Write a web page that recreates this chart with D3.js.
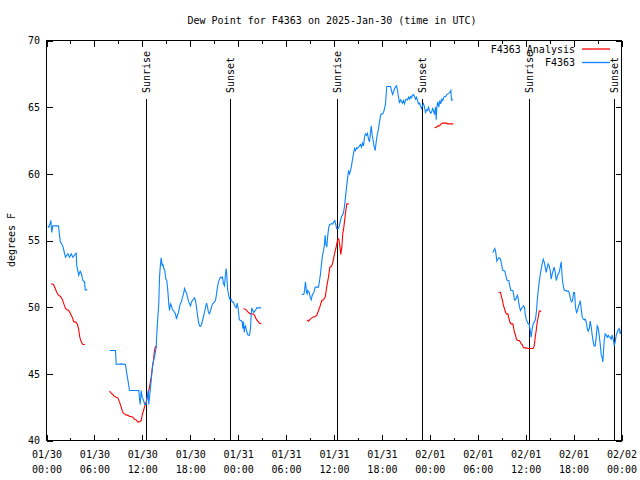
<!DOCTYPE html>
<html><head><meta charset="utf-8">
<script src="https://cdn.jsdelivr.net/npm/d3@7"></script>
<style>
body{margin:0;background:#fff}
text{font-family:"DejaVu Sans Mono",monospace;font-size:10px;fill:#000}
</style>
</head><body>
<svg id="c" width="640" height="480"></svg>
<script>
// ---- data (time in hours since 2025-01-30 00:00 UTC, dew point in °F) ----
const titleText = "Dew Point for F4363 on 2025-Jan-30 (time in UTC)";
const yLabel = "degrees F";
const xTickHours = [0,6,12,18,24,30,36,42,48,54,60,66,72];
const xTickLabels = ["01/30 00:00","01/30 06:00","01/30 12:00","01/30 18:00","01/31 00:00","01/31 06:00","01/31 12:00","01/31 18:00","02/01 00:00","02/01 06:00","02/01 12:00","02/01 18:00","02/02 00:00"];
const xMinorHours = [3,9,15,21,27,33,39,45,51,57,63,69];
const yTicks = [40,45,50,55,60,65,70];
const sunTimes = [12.43,22.92,36.35,47.0,60.39,71.09];
const sunLabels = ["Sunrise","Sunset","Sunrise","Sunset","Sunrise","Sunset"];
const seriesNames = ["F4363 Analysis","F4363"];
const seriesColors = ["#ff0000","#0a84ff"];

// F4363 observations (blue), in gap-separated pieces
const blue1Time = [0.16,0.29,0.46,0.54,0.66,0.79,1.50,1.63,1.72,1.84,2.04,2.17,2.38,2.67,2.88,3.09,3.29,3.51,3.72,3.79,4.04,4.22,4.38,4.55,4.76,4.85,5.10];
const blue1Val = [56.1,56.0,56.3,56.5,55.6,56.1,56.1,55.4,54.9,54.8,54.6,54.25,53.75,54.0,53.75,54.0,53.75,53.9,54.05,53.1,52.4,52.7,52.5,52.0,51.9,51.3,51.3];

const blue2Time = [7.89,8.64,8.73,9.35,9.89,10.06,10.23,10.39,11.56,11.65,
11.73,11.86,11.98,12.15,12.31,12.48,12.61,12.73,12.81,12.90,
12.99,13.15,13.31,13.52,13.74,13.81,13.94,14.06,14.15,14.24,
14.36,14.49,14.56,14.69,14.81,14.94,15.06,15.19,15.31,15.40,
15.53,15.65,15.78,15.90,16.03,16.15,16.28,16.40,16.53,16.65,
16.78,16.90,17.03,17.16,17.28,17.41,17.53,17.66,17.78,17.91,
18.03,18.16,18.28,18.41,18.53,18.66,18.78,18.91,19.03,19.16,
19.28,19.41,19.53,19.66,19.78,19.91,20.04,20.16,20.29,20.41,
20.54,20.66,20.79,20.91,21.04,21.16,21.29,21.41,21.54,21.66,
21.79,21.91,22.04,22.16,22.29,22.38,22.50,22.58,22.67,22.75,
22.88,23.00,23.13,23.25,23.38,23.50,23.63,23.75,23.88,24.00,
24.13,24.26,24.38,24.51,24.58,24.67,24.76,24.83,24.92,25.04,
25.17,25.29,25.42,25.55,25.63,25.71,25.83,25.96,26.08,26.21,
26.33,26.89];
const blue2Val = [46.75,46.75,45.7,45.75,45.7,45.0,44.4,43.75,43.75,43.1,
42.7,43.75,43.25,43.0,42.7,42.7,43.25,43.75,42.7,43.25,
43.75,44.75,45.75,46.25,47.0,48.0,49.25,50.25,52.25,53.0,
53.7,53.1,53.25,52.9,52.75,52.1,52.0,51.25,50.25,49.75,
50.25,50.1,49.8,49.75,49.6,49.5,49.1,49.4,49.6,50.0,
50.3,50.4,50.75,51.0,51.4,51.2,51.05,50.75,50.45,50.25,
50.1,50.4,50.5,50.6,50.7,50.5,50.0,49.4,48.9,48.6,
48.55,48.7,49.0,49.3,49.6,50.0,50.3,50.0,49.6,49.5,
49.75,50.0,50.25,50.3,50.4,50.5,51.0,51.5,51.9,52.1,
52.25,52.2,52.25,51.75,51.6,52.25,52.9,52.4,51.4,51.1,
50.7,50.55,50.6,50.4,50.4,50.2,50.05,49.95,50.3,49.9,
49.1,49.0,49.0,48.9,48.4,48.9,48.1,48.5,48.6,48.25,
47.95,47.9,47.9,48.4,49.5,49.95,49.75,49.6,49.7,49.8,
49.95,49.95];

const blue3Time = [31.97,32.22,32.31,32.43,32.56,32.65,32.72,32.90,33.02,33.15,
33.27,33.47,33.65,34.06,34.19,34.31,34.44,34.56,34.69,34.81,
34.90,34.97,35.10,35.22,35.35,35.48,35.65,35.85,35.98,36.10,
36.23,36.32,36.57,36.69,36.82,36.94,37.07,37.19,37.32,37.44,
37.57,37.69,37.82,37.94,38.07,38.19,38.32,38.44,38.57,38.69,
38.82,38.94,39.07,39.19,39.32,39.44,39.57,39.69,39.82,39.94,
40.07,40.19,40.32,40.45,40.57,40.66,40.78,40.91,41.03,41.16,
41.28,41.41,41.54,41.66,41.79,41.91,42.07,42.20,42.33,42.45,
42.54,42.61,43.08,43.20,43.33,43.45,43.58,43.70,43.83,43.95,
44.08,44.20,44.33,44.45,44.58,44.70,44.83,44.96,45.08,45.21,
45.33,45.46,45.58,45.71,45.83,45.96,46.08,46.21,46.33,46.46,
46.58,46.71,46.83,46.96,47.08,47.21,47.33,47.46,47.58,47.71,
47.83,47.96,48.08,48.21,48.34,48.46,48.59,48.71,48.80,48.87,
49.00,49.12,49.25,49.37,49.50,49.62,49.75,49.87,50.00,50.13,
50.25,50.38,50.50,50.63,50.71,50.93];
const blue3Val = [50.95,50.95,51.25,51.9,51.1,51.0,51.25,51.1,50.75,50.55,
50.9,51.1,51.5,51.5,52.0,52.5,53.25,53.9,54.25,54.75,
55.4,54.75,54.5,55.4,56.0,56.2,56.25,56.25,56.4,56.5,
56.2,55.9,55.9,56.2,56.5,56.8,56.9,57.1,57.6,58.25,
59.0,59.6,60.25,60.0,60.25,60.6,61.1,61.5,61.9,61.75,
61.95,61.9,62.0,62.1,62.2,62.0,62.3,62.1,62.75,63.0,
62.9,63.05,62.6,62.4,63.1,63.6,62.9,62.5,62.0,61.75,
62.4,62.9,63.25,63.75,64.25,64.5,64.5,64.6,64.9,65.25,
66.0,66.55,66.55,66.25,65.95,66.1,66.4,66.5,66.6,66.25,
65.75,65.3,65.55,65.45,65.3,65.5,65.25,65.55,65.6,65.55,
65.75,65.6,65.8,65.7,65.9,65.95,65.8,65.6,65.75,65.5,
65.25,65.3,65.1,64.9,65.1,65.25,65.0,64.6,64.8,64.75,
65.0,64.75,64.55,64.6,64.9,64.75,64.45,65.0,64.05,65.0,
65.4,65.0,65.5,65.25,65.6,65.5,65.75,65.8,65.8,65.95,
66.0,66.05,66.1,66.25,65.55,65.55];

const blue4Time = [55.89,56.01,56.14,56.26,56.39,56.51,56.64,56.76,56.89,57.01,
57.14,57.26,57.39,57.51,57.64,57.76,57.89,58.01,58.14,58.27,
58.39,58.48,58.60,58.73,58.85,58.98,59.10,59.23,59.35,59.48,
59.61,59.73,59.86,59.94,60.07,60.19,60.32,60.44,60.57,60.69,
60.82,60.94,61.11,61.23,61.36,61.45,61.57,61.70,61.82,61.95,
62.07,62.20,62.32,62.45,62.57,62.70,62.82,62.95,63.07,63.20,
63.32,63.45,63.57,63.70,63.83,63.95,64.08,64.20,64.33,64.45,
64.53,64.61,64.74,64.86,64.99,65.11,65.36,65.49,65.61,65.74,
65.87,65.99,66.12,66.24,66.37,66.49,66.62,66.74,66.83,66.95,
67.08,67.21,67.33,67.46,67.58,67.71,67.83,67.96,68.08,68.21,
68.33,68.46,68.58,68.71,68.83,68.96,69.08,69.21,69.33,69.46,
69.58,69.66,69.75,69.84,69.96,70.09,70.21,70.34,70.47,70.59,
70.72,70.84,70.97,71.09,71.21,71.34,71.46,71.59,71.71,71.84,
71.96];
const blue4Val = [54.1,54.25,54.4,54.1,53.45,53.6,53.7,53.7,53.5,53.1,
52.75,52.75,52.7,52.4,52.05,52.0,52.0,51.6,51.25,51.25,
51.25,51.0,50.55,50.55,50.75,50.9,50.5,50.0,49.75,49.9,
50.0,50.1,50.0,49.5,49.1,48.9,48.75,48.75,48.25,47.75,
48.4,48.75,48.9,49.1,49.75,50.5,51.25,51.9,52.4,52.9,
53.25,53.6,53.4,53.0,52.6,53.0,53.25,53.1,52.75,52.1,
52.5,52.75,53.0,52.6,52.0,52.25,52.5,52.6,53.0,53.4,
52.6,52.0,51.5,51.25,51.25,51.2,51.2,51.0,50.6,50.4,
50.5,51.1,51.1,50.0,49.6,49.75,50.1,50.25,50.5,49.9,
49.25,49.1,49.05,49.1,48.9,48.4,48.2,48.4,48.95,48.5,
47.9,47.4,47.1,47.1,47.75,48.6,48.45,47.9,47.25,46.4,
46.25,45.9,46.75,47.5,48.0,47.9,47.75,47.9,47.75,47.75,
47.6,47.9,47.6,47.1,47.4,47.9,48.1,48.3,48.4,48.0,
48.25];

// F4363 Analysis (red)
const red1Time = [0.59,0.88,1.09,1.29,1.50,1.75,1.97,2.17,2.38,2.59,2.79,3.01,3.22,3.42,3.63,3.84,4.01,4.17,4.35,4.55,4.80];
const red1Val = [51.75,51.7,51.4,51.1,50.9,50.8,50.6,50.25,49.9,49.8,49.75,49.5,49.25,48.9,48.9,48.75,48.4,47.75,47.4,47.2,47.2];
const red2Time = [7.89,8.10,8.30,8.51,8.73,8.93,9.14,9.35,9.55,9.77,9.98,10.18,10.39,10.61,10.81,11.02,11.23,11.43,11.65,11.86,11.98,12.15,12.31,12.48,12.68,12.90,13.11,13.24,13.40,13.52,13.65,13.81];
const red2Val = [43.7,43.55,43.45,43.3,43.25,43.2,42.9,42.5,42.1,42.0,41.9,41.9,41.8,41.8,41.75,41.6,41.55,41.4,41.4,41.5,41.9,42.25,42.6,42.9,43.4,44.0,44.75,45.4,46.0,46.75,47.05,47.05];
const red3Time = [24.67,25.01,25.29,25.55,25.83,26.05,26.26,26.46,26.67,26.89];
const red3Val = [49.9,49.8,49.6,49.5,49.5,49.4,49.1,48.95,48.8,48.75];
const red4Time = [32.60,32.81,33.02,33.35,33.65,33.85,34.06,34.27,34.47,34.69,34.90,35.02,35.15,35.31,35.48,35.65,35.81,35.98,36.10,36.23,36.35,36.48,36.60,36.73,36.85,36.98,37.10,37.23,37.35,37.48,37.60,37.85];
const red4Val = [49.05,48.95,49.1,49.25,49.3,49.4,49.75,50.1,50.5,50.55,50.75,51.25,51.75,52.25,53.0,53.05,53.25,53.75,54.1,54.4,54.75,55.1,55.1,54.6,53.95,54.5,55.5,56.0,56.6,57.25,57.75,57.75];
const red5Time = [48.59,48.80,49.00,49.21,49.42,49.62,49.84,50.05,50.25,50.59,50.93];
const red5Val = [63.45,63.5,63.6,63.6,63.75,63.8,63.8,63.8,63.75,63.75,63.75];
const red6Time = [56.60,56.85,56.98,57.10,57.23,57.35,57.48,57.60,57.77,57.89,58.01,58.14,58.39,58.48,58.60,58.73,58.85,58.98,59.19,59.32,59.44,59.57,59.69,59.82,60.07,60.27,60.94,61.07,61.20,61.32,61.45,61.57,61.70,61.95];
const red6Val = [51.1,51.1,50.75,50.5,50.1,49.9,49.6,49.5,49.5,49.2,48.9,48.75,48.75,48.5,48.1,47.9,47.6,47.5,47.5,47.4,47.25,47.2,47.0,46.95,46.95,46.9,46.9,47.1,47.75,48.25,48.9,49.25,49.7,49.7];

// ---- chart ----
const svg = d3.select("#c");
svg.append("rect").attr("width",640).attr("height",480).attr("fill","#fff");
const L = 46.5, R = 621.5, T = 40.5, B = 440.5;
const x = d3.scaleLinear().domain([0,72]).range([L,R]);
const y = d3.scaleLinear().domain([40,70]).range([B,T]);

const axStyle = g => { g.select(".domain").remove(); g.selectAll("line").attr("stroke","#000").attr("shape-rendering","crispEdges"); g.attr("font-family",null).attr("font-size",null); };

const gx = svg.append("g").attr("transform",`translate(0,${B})`)
  .call(d3.axisBottom(x).tickValues(xTickHours).tickSize(-6).tickFormat((d,i)=>xTickLabels[i]))
  .call(axStyle);
gx.selectAll(".tick text").each(function(d,i){
  const t = d3.select(this);
  const parts = xTickLabels[i].split(" ");
  t.text(null).attr("y",17).attr("dy",null).attr("fill","#000");
  t.append("tspan").attr("x",0).text(parts[0]);
  t.append("tspan").attr("x",0).attr("dy",15).text(parts[1]);
});
svg.append("g").attr("transform",`translate(0,${B})`)
  .call(d3.axisBottom(x).tickValues(xMinorHours).tickSize(-3).tickFormat("")).call(axStyle);
svg.append("g").attr("transform",`translate(0,${T})`)
  .call(d3.axisTop(x).tickValues(xTickHours).tickSize(-6).tickFormat("")).call(axStyle);
svg.append("g").attr("transform",`translate(0,${T})`)
  .call(d3.axisTop(x).tickValues(xMinorHours).tickSize(-3).tickFormat("")).call(axStyle);

const gy = svg.append("g").attr("transform",`translate(${L},0)`)
  .call(d3.axisLeft(y).tickValues(yTicks).tickSize(-6).tickPadding(6.5).tickFormat(d3.format("d")))
  .call(axStyle);
gy.selectAll("text").attr("fill","#000");
svg.append("g").attr("transform",`translate(${R},0)`)
  .call(d3.axisRight(y).tickValues(yTicks).tickSize(-6).tickFormat("")).call(axStyle);

// sunrise / sunset markers
sunTimes.forEach((t,i)=>{
  const sx = Math.round(x(t)) + 0.5;
  svg.append("line").attr("x1",sx).attr("x2",sx).attr("y1",99).attr("y2",B)
    .attr("stroke","#000").attr("stroke-width",1).attr("shape-rendering","crispEdges");
  svg.append("text").attr("transform",`translate(${sx},93) rotate(-90)`)
    .attr("dy","0.35em").attr("text-anchor","start").text(sunLabels[i]);
});

// data lines
const line = d3.line().x(d=>x(d[0])).y(d=>y(d[1]));
const redSegs = [[red1Time,red1Val],[red2Time,red2Val],[red3Time,red3Val],[red4Time,red4Val],[red5Time,red5Val],[red6Time,red6Val]];
const blueSegs = [[blue1Time,blue1Val],[blue2Time,blue2Val],[blue3Time,blue3Val],[blue4Time,blue4Val]];
redSegs.forEach(([t,v])=>{
  svg.append("path").datum(d3.zip(t,v)).attr("d",line)
    .attr("fill","none").attr("stroke",seriesColors[0]).attr("stroke-width",1.1);
});
blueSegs.forEach(([t,v])=>{
  svg.append("path").datum(d3.zip(t,v)).attr("d",line)
    .attr("fill","none").attr("stroke",seriesColors[1]).attr("stroke-width",1.1);
});

// frame
svg.append("rect").attr("x",L).attr("y",T).attr("width",R-L).attr("height",B-T)
  .attr("fill","none").attr("stroke","#000").attr("shape-rendering","crispEdges");

// legend
const legend = svg.append("g");
seriesNames.forEach((n,i)=>{
  const ly = 49 + i*13.5;
  legend.append("text").attr("x",575).attr("y",ly).attr("dy","0.35em").attr("text-anchor","end").text(n);
  legend.append("path").attr("d",`M582,${ly}H610`)
    .style("stroke",seriesColors[i]).style("stroke-width","1.3px").style("fill","none");
});

// title and y label
svg.append("text").attr("x",332).attr("y",24).attr("text-anchor","middle").text(titleText);
svg.append("text").attr("transform","translate(15,240) rotate(-90)").attr("text-anchor","middle").text(yLabel);
</script>
</body></html>
